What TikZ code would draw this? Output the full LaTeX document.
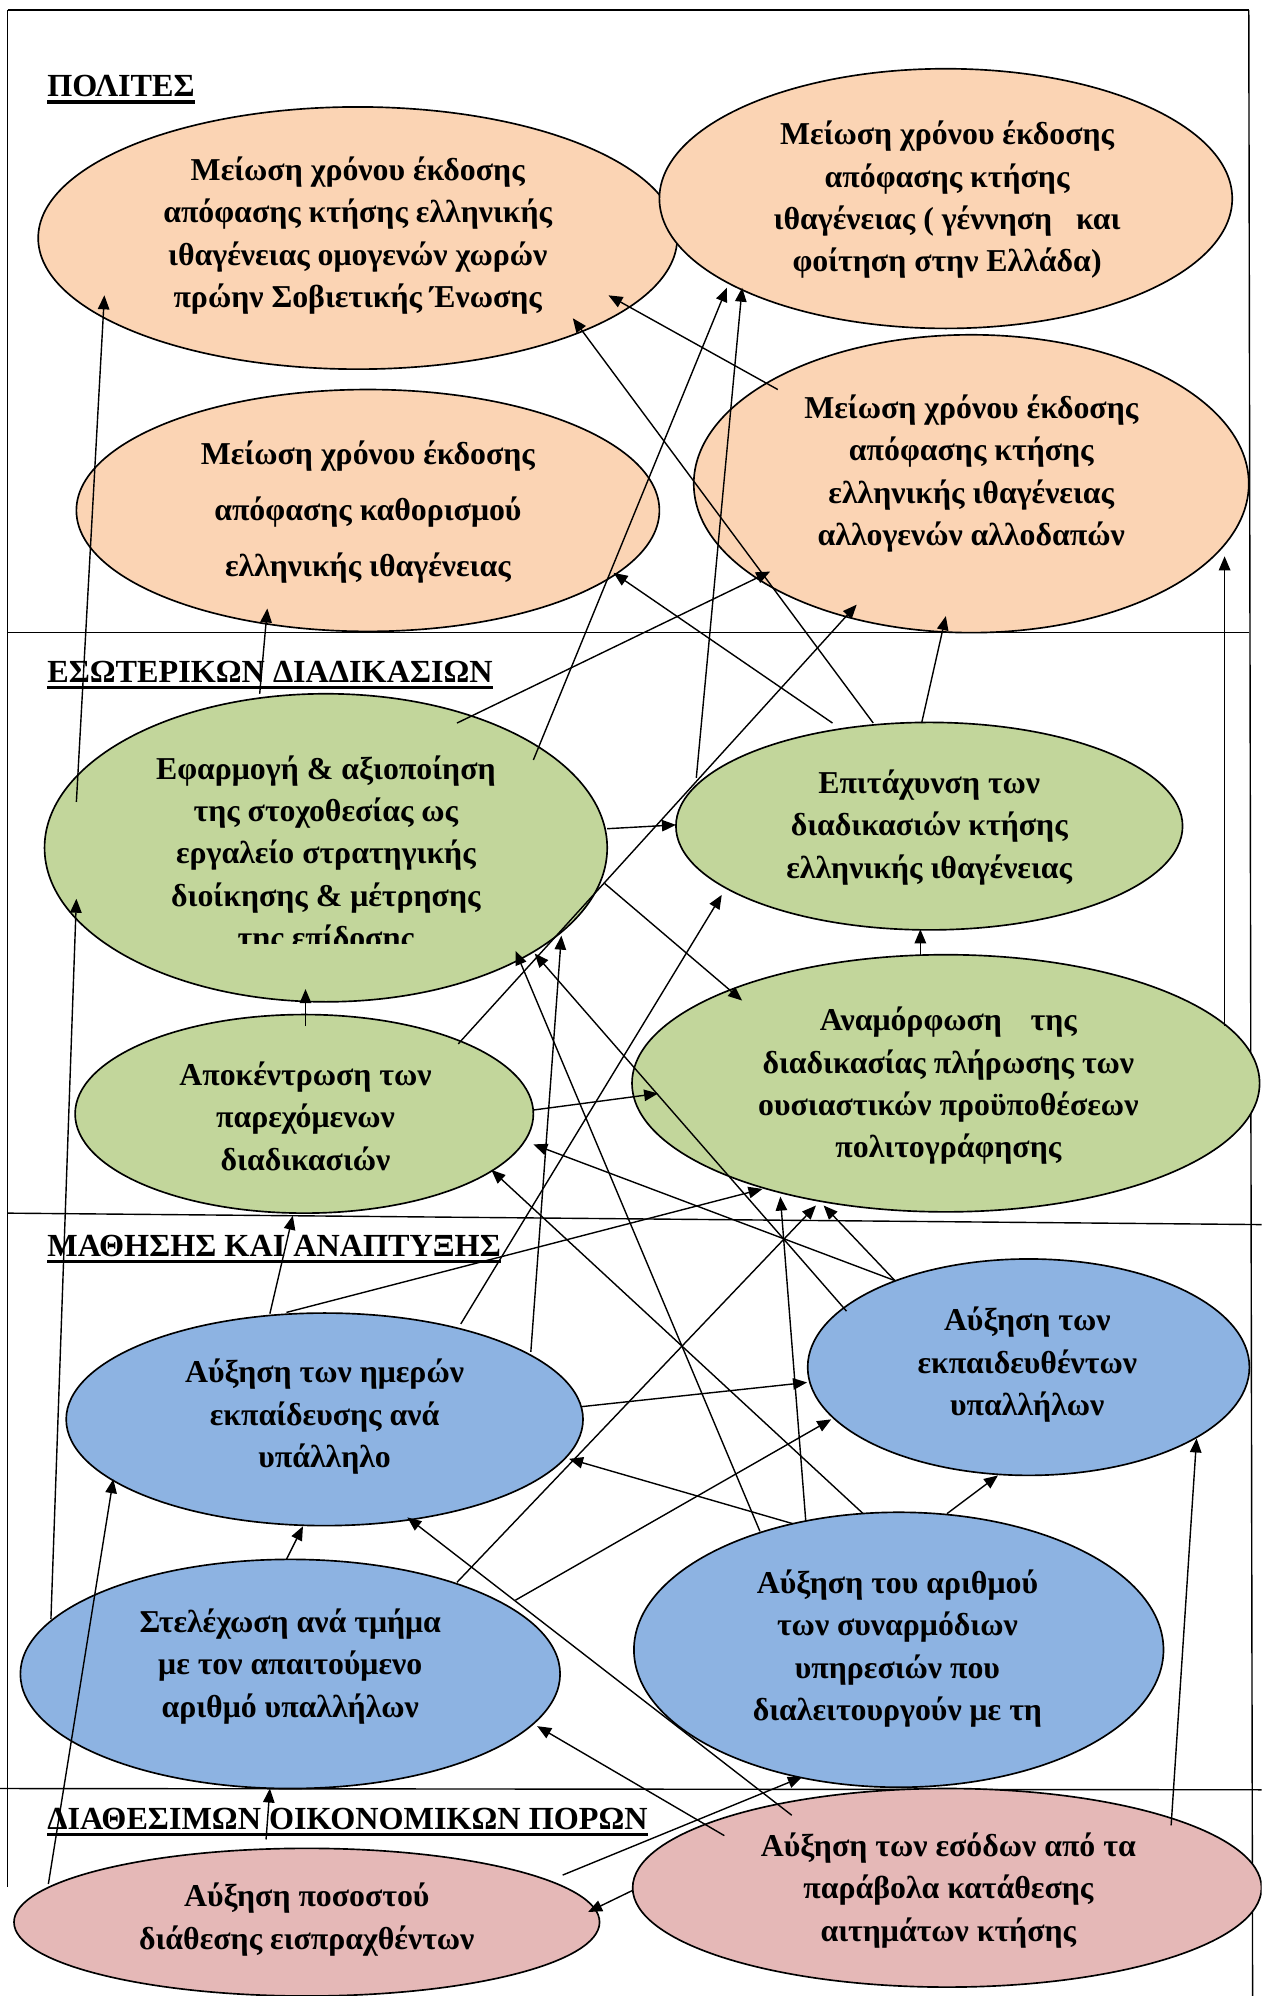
\documentclass[tikz,border=0pt]{standalone}
\usepackage{fontspec}
\setmainfont{Liberation Serif}
\usetikzlibrary{arrows.meta,shapes.geometric}

\definecolor{peach}{HTML}{FBD4B4}
\definecolor{olive}{HTML}{C2D69B}
\definecolor{sky}{HTML}{8DB3E2}
\definecolor{rose}{HTML}{E5B8B7}

\begin{document}
\begin{tikzpicture}[x=1pt,y=-1pt,
  goal/.style={ellipse, draw=black, line width=1.3pt, inner sep=0pt},
  txt/.style={font=\bfseries\fontsize{25}{33.3}\selectfont, align=center, inner sep=0pt},
  sect/.style={font=\bfseries\fontsize{25.3}{28}\selectfont, anchor=base west, inner sep=0pt},
  uline/.style={line width=2.8pt},
  frame/.style={line width=1.1pt},
  link/.style={line width=1.1pt, -{Triangle[length=11pt,width=9pt]}}
]
\useasboundingbox (0,0) rectangle (991,1568);
\clip (0,0) rectangle (991,1568);

% outer frame and perspective dividers
\draw[frame] (6,8) -- (981,8);
\draw[frame] (6,8) -- (6,1482);
\draw[frame] (981,8) -- (984,1568);
\draw[frame] (6,497) -- (981,497);
\draw[frame] (6,953) -- (991,962);
\draw[frame] (0,1405) -- (991,1406);

% perspective titles
\node[sect] (s1) at (37,76) {ΠΟΛΙΤΕΣ};
\node[sect] (s2) at (37,536) {ΕΣΩΤΕΡΙΚΩΝ ΔΙΑΔΙΚΑΣΙΩΝ};
\node[sect] (s3) at (37,987) {ΜΑΘΗΣΗΣ ΚΑΙ ΑΝΑΠΤΥΞΗΣ};
\node[sect] (s4) at (37,1437) {ΔΙΑΘΕΣΙΜΩΝ ΟΙΚΟΝΟΜΙΚΩΝ ΠΟΡΩΝ};
\foreach \s in {s1,s2,s3,s4}
  \draw[uline] ([shift={(0,4)}]\s.base west) -- ([shift={(0,4)}]\s.base east);

% citizens
\node[goal, fill=peach, minimum width=502pt, minimum height=206pt] (p1) at (281,187) {};
\node[goal, fill=peach, minimum width=450pt, minimum height=204pt] (p2) at (743,156) {};
\node[goal, fill=peach, minimum width=458pt, minimum height=190pt] (p3) at (289,401) {};
\node[goal, fill=peach, minimum width=436pt, minimum height=234pt] (p4) at (763,380) {};
% internal processes
\node[goal, fill=olive, minimum width=442pt, minimum height=242pt] (i1) at (256,666) {};
\node[goal, fill=olive, minimum width=398pt, minimum height=163pt] (i2) at (730,649) {};
\node[goal, fill=olive, minimum width=360pt, minimum height=156pt] (i3) at (239,875) {};
\node[goal, fill=olive, minimum width=493pt, minimum height=202pt] (i4) at (743,851) {};
% learning and growth
\node[goal, fill=sky, minimum width=406pt, minimum height=167pt] (l1) at (255,1115) {};
\node[goal, fill=sky, minimum width=347pt, minimum height=170pt] (l2) at (808,1074) {};
\node[goal, fill=sky, minimum width=424pt, minimum height=180pt] (l3) at (228,1315) {};
\node[goal, fill=sky, minimum width=416pt, minimum height=216pt] (l4) at (706,1296) {};
% financial resources
\node[goal, fill=rose, minimum width=460pt, minimum height=116pt] (f1) at (241,1510) {};
\node[goal, fill=rose, minimum width=494pt, minimum height=156pt] (f2) at (744,1483) {};

% texts
\node[txt] (p1t) at (281,185) {Μείωση χρόνου έκδοσης\\απόφασης κτήσης ελληνικής\\ιθαγένειας ομογενών χωρών\\πρώην Σοβιετικής Ένωσης};
\node[txt] (p2t) at (744,157) {Μείωση χρόνου έκδοσης\\απόφασης κτήσης\\ιθαγένειας ( γέννηση\hspace{0.5em} και\\φοίτηση στην Ελλάδα)};
\node[txt, font=\bfseries\fontsize{25}{44}\selectfont] (p3t) at (289,402) {Μείωση χρόνου έκδοσης\\απόφασης καθορισμού\\ελληνικής ιθαγένειας};
\node[txt] (p4t) at (763,372) {Μείωση χρόνου έκδοσης\\απόφασης κτήσης\\ελληνικής ιθαγένειας\\αλλογενών αλλοδαπών};
\begin{scope}
  \clip (0,0) rectangle (991,741);
  \node[txt] (i1t) at (256,672) {Εφαρμογή \& αξιοποίηση\\της στοχοθεσίας ως\\εργαλείο στρατηγικής\\διοίκησης \& μέτρησης\\της επίδοσης};
\end{scope}
\node[txt] (i2t) at (730,650) {Επιτάχυνση των\\διαδικασιών κτήσης\\ελληνικής ιθαγένειας};
\node[txt] (i3t) at (240,877) {Αποκέντρωση των\\παρεχόμενων\\διαδικασιών};
\node[txt] (i4t) at (745,853) {Αναμόρφωση\hspace{0.9em}της\\διαδικασίας πλήρωσης των\\ουσιαστικών προϋποθέσεων\\πολιτογράφησης};
\node[txt] (l1t) at (255,1113) {Αύξηση των ημερών\\εκπαίδευσης ανά\\υπάλληλο};
\node[txt] (l2t) at (807,1072) {Αύξηση των\\εκπαιδευθέντων\\υπαλλήλων};
\node[txt] (l3t) at (228,1309) {Στελέχωση ανά τμήμα\\με τον απαιτούμενο\\αριθμό υπαλλήλων};
\node[txt] (l4t) at (705,1295) {Αύξηση του αριθμού\\των συναρμόδιων\\υπηρεσιών που\\διαλειτουργούν με τη};
\node[txt] (f1t) at (241,1508) {Αύξηση ποσοστού\\διάθεσης εισπραχθέντων};
\node[txt] (f2t) at (745,1485) {Αύξηση των εσόδων από τα\\παράβολα κατάθεσης\\αιτημάτων κτήσης};

% cause-and-effect links
\draw[link] ([shift={(-196,-36)}]i1.center) -- ([shift={(-199,45)}]p1.center);
\draw[link] ([shift={(-52,-121)}]i1.center) -- ([shift={(-79,77)}]p3.center);
\draw[link] ([shift={(-152,-74)}]p4.center) -- ([shift={(197,45)}]p1.center);
\draw[link] ([shift={(-44,-81)}]i2.center) -- ([shift={(169,63)}]p1.center);
\draw[link] ([shift={(163,-69)}]i1.center) -- ([shift={(-172,70)}]p2.center);
\draw[link] ([shift={(-183,-38)}]i2.center) -- ([shift={(-160,70)}]p2.center);
\draw[link] ([shift={(-76,-81)}]i2.center) -- ([shift={(193,49)}]p3.center);
\draw[link] ([shift={(103,-98)}]i1.center) -- ([shift={(-158,69)}]p4.center);
\draw[link] ([shift={(121,-55)}]i3.center) -- ([shift={(-90,95)}]p4.center);
\draw[link] ([shift={(-6,-81)}]i2.center) -- ([shift={(-20,104)}]p4.center);
\draw[link] ([shift={(219,-45)}]i4.center) -- ([shift={(199,57)}]p4.center);
\draw[link] ([shift={(-20,-101)}]i4.center) -- ([shift={(-7,81)}]i2.center);
\draw[link] ([shift={(221,-15)}]i1.center) -- ([shift={(-199,-1)}]i2.center);
\draw[link] ([shift={(219,28)}]i1.center) -- ([shift={(-160,-65)}]i4.center);
\draw[link] ([shift={(1,-69)}]i3.center) -- ([shift={(-16,111)}]i1.center);
\draw[link] ([shift={(180,-3)}]i3.center) -- ([shift={(-226,8)}]i4.center);
\draw[link] ([shift={(-43,-83)}]l1.center) -- ([shift={(-9,80)}]i3.center);
\draw[link] ([shift={(-30,-84)}]l1.center) -- ([shift={(-144,83)}]i4.center);
\draw[link] ([shift={(107,-75)}]l1.center) -- ([shift={(-163,54)}]i2.center);
\draw[link] ([shift={(162,-53)}]l1.center) -- ([shift={(185,69)}]i1.center);
\draw[link] ([shift={(202,-10)}]l1.center) -- ([shift={(-174,12)}]l2.center);
\draw[link] ([shift={(-188,-43)}]l3.center) -- ([shift={(-196,40)}]i1.center);
\draw[link] ([shift={(-3,-90)}]l3.center) -- ([shift={(-17,84)}]l1.center);
\draw[link] ([shift={(131,-72)}]l3.center) -- ([shift={(-102,96)}]i4.center);
\draw[link] ([shift={(177,-58)}]l3.center) -- ([shift={(-155,41)}]l2.center);
\draw[link] ([shift={(-109,-93)}]l4.center) -- ([shift={(149,81)}]i1.center);
\draw[link] ([shift={(-73,-101)}]l4.center) -- ([shift={(-130,89)}]i4.center);
\draw[link] ([shift={(-28,-107)}]l4.center) -- ([shift={(147,44)}]i3.center);
\draw[link] ([shift={(-83,-99)}]l4.center) -- ([shift={(192,31)}]l1.center);
\draw[link] ([shift={(38,-107)}]l4.center) -- ([shift={(-24,85)}]l2.center);
\draw[link] ([shift={(-143,-44)}]l2.center) -- ([shift={(164,83)}]i1.center);
\draw[link] ([shift={(-105,-68)}]l2.center) -- ([shift={(180,24)}]i3.center);
\draw[link] ([shift={(-105,-68)}]l2.center) -- ([shift={(-96,96)}]i4.center);
\draw[link] ([shift={(-203,-30)}]f1.center) -- ([shift={(-166,47)}]l1.center);
\draw[link] ([shift={(-32,-65)}]f1.center) -- ([shift={(-16,90)}]l3.center);
\draw[link] ([shift={(201,-37)}]f1.center) -- ([shift={(-76,100)}]l4.center);
\draw[link] ([shift={(-247,2)}]f2.center) -- ([shift={(221,-8)}]f1.center);
\draw[link] ([shift={(-175,-41)}]f2.center) -- ([shift={(194,41)}]l3.center);
\draw[link] ([shift={(-122,-57)}]f2.center) -- ([shift={(65,77)}]l1.center);
\draw[link] ([shift={(176,-49)}]f2.center) -- ([shift={(132,56)}]l2.center);
\end{tikzpicture}
\end{document}
